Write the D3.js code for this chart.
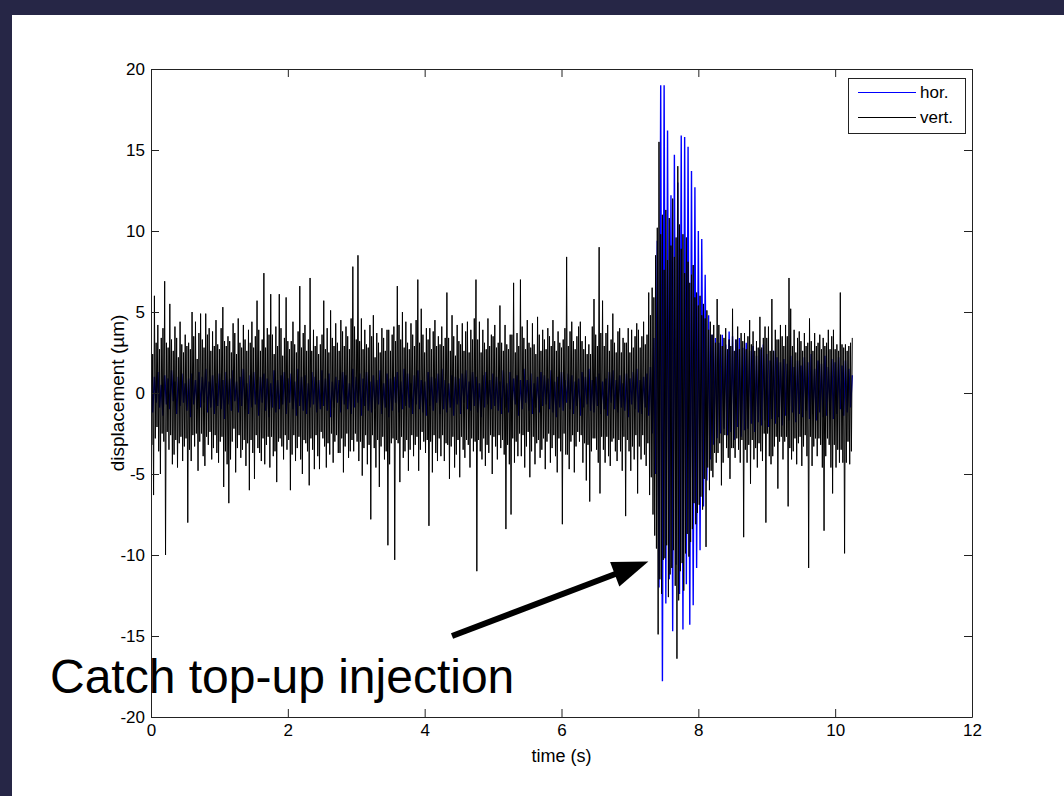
<!DOCTYPE html>
<html><head><meta charset="utf-8">
<script src="https://d3js.org/d3.v7.min.js"></script>
<style>
html,body{margin:0;padding:0;background:#fff;}
svg{display:block;}
text{font-family:"Liberation Sans",Arial,Helvetica,sans-serif;}
</style></head>
<body>
<svg id="chart" width="1064" height="796"></svg>
<script>
// ---- data ----
const horStep = 0.025;    // s between hor. samples
const vertStep = 0.0125;  // s between vert. samples
const xTicks = [0, 2, 4, 6, 8, 10, 12];
const yTicks = [-20, -15, -10, -5, 0, 5, 10, 15, 20];
const seriesNames = ["hor.", "vert."];
const seriesColors = ["#0000ff", "#000000"];
const xLabel = "time (s)";
const yLabel = "displacement (\u00b5m)";
const annotationText = "Catch top-up injection";
const arrowFrom = [4.40, -15.0];
const arrowTo = [7.27, -10.4];

const vert = [
 1.5,-3.2,2.4,-6.3,6.0,-2.8,3.1,-2.1,4.2,-3.6,2.7,-5.0,3.4,-2.5,4.0,-3.0,6.9,-10.0,3.1,-2.4,
 2.8,-3.5,5.5,-2.6,3.3,-4.4,2.6,-3.8,4.1,-2.9,3.4,-4.6,2.2,-3.1,4.4,-2.7,3.0,-4.2,2.5,-3.3,
 3.6,-2.8,2.9,-8.0,3.1,-3.5,2.7,-4.2,5.0,-2.6,3.5,-3.3,4.4,-2.5,2.1,-4.8,3.7,-3.0,4.9,-2.5,
 3.3,-3.9,2.8,-4.5,4.9,-2.7,3.6,-3.2,4.0,-2.4,2.6,-4.1,3.8,-3.4,2.9,-2.6,4.5,-3.7,3.0,-4.3,
 2.7,-3.0,4.0,-2.7,5.3,-5.8,3.2,-3.6,2.9,-4.4,3.5,-6.8,3.2,-4.1,2.5,-3.0,4.3,-2.2,3.7,-4.9,
 2.4,-3.4,4.6,-2.6,3.1,-4.0,2.8,-3.5,4.2,-2.9,3.3,-4.5,2.6,-3.1,3.9,-6.0,3.1,-2.9,4.4,-3.7,
 2.8,-5.3,3.5,-2.6,5.7,-3.4,3.9,-3.7,2.6,-4.2,3.3,-2.8,7.4,-4.4,2.8,-3.2,4.0,-2.7,3.6,-4.6,
 6.1,-2.7,3.6,-3.9,2.4,-3.6,4.1,-5.5,2.9,-3.0,6.1,-2.8,4.0,-3.3,2.3,-4.1,3.4,-2.6,5.9,-3.5,
 3.2,-2.9,2.7,-6.0,3.2,-3.8,4.4,-2.6,3.0,-4.2,2.5,-3.4,3.8,-2.7,6.6,-4.1,2.8,-5.0,3.7,-2.9,
 4.2,-3.1,2.6,-3.6,3.3,-5.7,7.1,-2.8,2.6,-3.5,3.9,-4.7,2.9,-2.6,3.5,-3.9,2.4,-4.7,3.0,-2.4,
 3.6,-2.8,5.7,-3.3,2.7,-4.6,4.0,-3.1,2.5,-3.8,5.1,-2.5,3.4,-4.3,2.9,-3.0,4.3,-2.6,3.1,-3.7,
 2.6,-3.7,4.5,-2.8,3.8,-4.9,2.9,-3.3,4.1,-2.5,3.5,-4.0,2.7,-3.6,4.6,-2.9,7.8,-3.6,4.1,-2.5,
 3.3,-3.0,8.5,-4.2,3.2,-3.0,4.6,-5.1,2.7,-3.4,3.9,-2.6,3.0,-4.4,2.8,-3.2,4.2,-7.8,3.5,-2.6,
 4.8,-3.4,2.2,-4.6,3.7,-2.9,3.1,-5.8,2.5,-3.3,4.0,-2.7,3.4,-4.1,2.6,-3.6,3.9,-9.4,3.9,-4.4,
 2.6,-3.1,3.6,-2.8,4.1,-10.3,3.2,-2.9,6.6,-3.1,4.2,-5.5,3.3,-2.7,5.0,-4.0,2.8,-3.6,4.4,-2.9,
 3.1,-4.8,2.7,-3.5,4.3,-2.6,3.6,-3.9,2.9,-3.2,4.5,-2.7,7.0,-4.8,3.1,-3.5,5.2,-2.4,3.6,-3.0,
 2.5,-3.7,4.0,-2.9,3.3,-8.2,4.0,-3.0,2.7,-4.9,3.8,-2.6,4.5,-3.7,2.9,-4.2,3.5,-2.8,3.0,-3.9,
 4.1,-2.6,2.9,-4.2,3.4,-3.1,6.2,-3.2,3.4,-5.3,2.6,-3.3,4.8,-2.7,3.5,-4.6,2.3,-3.8,4.2,-2.9,
 3.2,-5.2,3.0,-2.7,4.3,-3.5,2.6,-4.0,3.8,-2.9,4.4,-3.2,2.5,-4.6,3.9,-2.8,3.3,-3.6,4.6,-3.0,
 7.0,-11.0,3.3,-2.9,4.4,-3.6,2.5,-4.1,3.9,-2.8,3.1,-4.5,2.7,-3.2,4.6,-3.7,2.9,-2.6,3.6,-5.0,
 3.5,-2.7,4.2,-3.3,2.8,-4.1,3.1,-2.6,5.4,-3.4,3.1,-2.9,2.6,-3.8,4.2,-8.4,3.0,-3.2,2.7,-4.4,
 3.6,-7.5,3.6,-2.8,6.8,-4.3,2.5,-3.0,3.7,-3.9,2.9,-2.5,7.0,-3.9,4.1,-2.6,3.4,-4.6,2.7,-3.3,
 4.5,-2.4,3.1,-5.2,2.8,-3.6,4.3,-2.7,3.0,-4.4,2.4,-3.1,4.7,-2.9,3.6,-4.0,2.6,-3.5,3.9,-2.8,
 3.3,-4.7,2.7,-3.0,4.0,-2.5,3.5,-4.3,2.9,-3.4,4.5,-2.6,3.2,-3.9,2.6,-4.9,3.8,-2.8,3.1,-3.6,
 2.8,-8.1,3.3,-2.5,4.0,-3.8,8.4,-3.8,2.9,-4.7,3.8,-3.0,4.4,-2.6,3.2,-4.9,2.7,-3.3,3.5,-2.4,
 4.1,-3.0,4.4,-2.6,3.2,-4.3,2.7,-3.1,3.5,-5.4,2.4,-3.2,3.0,-6.7,2.4,-3.6,4.1,-2.8,5.8,-2.8,
 3.6,-3.5,2.9,-4.3,9.0,-6.2,3.7,-2.7,5.7,-3.5,2.9,-4.3,3.7,-2.7,4.2,-3.9,2.6,-4.5,3.3,-3.0,
 4.9,-2.8,3.1,-3.6,2.5,-4.2,3.8,-2.9,4.0,-3.6,2.5,-4.8,3.4,-2.7,3.1,-7.6,3.1,-2.9,4.0,-3.6,
 2.5,-4.8,3.9,-3.3,2.8,-4.1,3.5,-2.6,4.3,-6.2,3.9,-3.3,2.8,-4.1,3.5,-2.6,4.4,-3.8,3.0,-4.5,
 3.6,-3.1,6.2,-6.3,4.8,-5.2,6.5,-7.5,5.9,-8.8,8.5,-9.6,10.2,-14.9,15.5,-11.5,9.8,-12.4,11.0,-10.3,
 7.6,-10.2,11.3,-9.4,8.2,-12.6,10.8,-11.2,9.1,-10.8,12.0,-9.7,8.4,-11.9,9.6,-16.4,14.0,-12.8,10.4,-11.0,
 8.9,-10.5,9.8,-12.2,7.4,-9.9,9.6,-8.7,8.1,-10.1,6.8,-9.2,7.3,-8.4,7.9,-6.8,5.9,-8.1,6.2,-7.4,
 5.4,-6.9,6.0,-6.4,4.8,-7.2,5.5,-5.3,4.6,-9.5,5.1,-4.6,3.9,-6.0,4.4,-4.8,3.6,-5.2,4.2,-3.7,
 3.1,-4.3,5.8,-3.7,4.2,-3.1,3.6,-5.7,2.9,-4.3,3.4,-2.6,4.0,-3.4,2.7,-4.0,3.3,-5.3,2.9,-3.4,
 5.2,-3.4,2.6,-4.0,3.3,-2.8,4.1,-3.5,2.7,-4.3,3.7,-2.9,3.2,-8.9,3.7,-3.5,2.7,-4.3,3.5,-3.2,
 4.5,-5.6,3.0,-2.9,3.8,-4.1,2.6,-3.4,3.2,-4.6,2.8,-3.1,4.7,-3.6,2.8,-4.2,3.4,-2.5,4.1,-8.0,
 3.4,-2.5,4.1,-3.9,2.6,-4.4,5.8,-3.9,2.6,-3.3,3.9,-2.7,3.3,-5.9,3.3,-3.0,4.2,-2.7,3.5,-4.1,
 2.9,-3.0,4.2,-2.7,3.5,-7.0,7.1,-3.4,5.2,-4.1,2.9,-3.6,3.9,-2.8,2.5,-4.4,3.4,-3.1,3.8,-2.7,
 3.2,-4.5,2.6,-3.3,3.7,-2.6,2.9,-3.9,3.1,-10.8,4.6,-2.7,3.2,-4.5,2.6,-3.3,3.7,-2.8,2.9,-3.9,
 3.1,-2.8,3.6,-3.2,2.7,-4.6,3.4,-8.5,2.9,-3.9,3.1,-2.8,3.9,-3.2,2.7,-4.6,3.5,-6.2,3.9,-3.2,
 2.7,-4.6,3.0,-3.5,2.6,-4.3,6.2,-3.5,3.0,-4.3,2.8,-9.9,3.0,-4.3,2.6,-3.0,2.9,-4.4,3.1,-3.6,
 3.4
];

const hor = [
 0.8,-1.2,1.0,-0.6,1.3,-0.9,0.5,-1.4,1.1,-0.7,
 0.9,-1.0,1.4,-0.5,0.7,-1.3,1.0,-0.8,1.2,-0.6,
 0.6,-1.1,0.9,-1.5,1.2,-0.7,0.8,-1.0,1.3,-0.9,
 1.0,-0.6,1.5,-1.2,0.7,-0.9,1.1,-1.3,0.6,-0.8,
 1.2,-1.0,0.8,-1.6,1.3,-0.7,0.9,-1.1,1.4,-0.5,
 0.7,-1.2,1.0,-0.8,1.5,-1.0,0.6,-1.3,1.1,-0.9,
 1.3,-0.7,0.8,-1.4,1.0,-0.6,1.2,-1.1,0.9,-1.5,
 0.6,-0.9,1.4,-1.2,0.8,-1.0,1.1,-0.7,1.3,-1.3,
 0.9,-0.6,1.2,-1.0,0.7,-1.4,1.5,-0.8,1.0,-1.1,
 1.1,-1.3,0.6,-0.9,1.3,-0.7,1.0,-1.2,0.8,-1.0,
 1.4,-0.8,0.9,-1.1,1.2,-1.5,0.7,-0.9,1.0,-0.6,
 0.8,-1.2,1.3,-0.7,1.1,-1.0,0.6,-1.3,1.5,-0.9,
 1.0,-0.6,1.2,-1.4,0.9,-0.8,1.3,-1.1,0.7,-1.2,
 1.1,-1.0,0.8,-0.7,1.4,-1.3,0.6,-0.9,1.2,-1.5,
 0.9,-1.1,1.0,-0.6,1.3,-1.2,0.7,-1.0,1.5,-0.8,
 1.2,-0.9,0.6,-1.3,1.1,-0.7,1.4,-1.0,0.8,-1.2,
 0.7,-1.4,1.3,-0.8,1.0,-1.1,0.9,-0.6,1.2,-1.3,
 1.5,-1.0,0.8,-1.2,0.6,-0.9,1.1,-1.4,1.0,-0.7,
 0.9,-1.3,1.2,-0.6,1.4,-1.0,0.7,-1.1,1.3,-0.8,
 1.0,-1.2,0.6,-1.5,1.1,-0.9,1.3,-0.7,0.8,-1.0,
 1.2,-0.8,1.0,-1.1,0.7,-1.3,1.4,-0.9,0.6,-1.2,
 1.3,-1.0,0.9,-0.7,1.1,-1.4,0.8,-1.0,1.5,-0.6,
 0.8,-1.1,1.2,-1.3,0.6,-0.9,1.0,-1.2,1.3,-0.8,
 1.1,-0.7,0.9,-1.0,1.4,-1.2,0.7,-1.5,1.0,-0.9,
 1.3,-1.1,0.8,-0.6,1.2,-1.0,1.1,-1.3,0.7,-0.8,
 0.9,-1.4,1.3,-0.9,1.0,-0.7,1.5,-1.1,0.8,-1.2,
 1.0,-0.8,1.2,-1.3,0.7,-1.0,0.9,-1.4,1.3,-0.6,
 1.4,-1.0,0.8,-1.2,1.1,-0.9,0.6,-1.1,1.2,-1.5,
 0.9,-0.7,1.3,-1.0,1.5,-1.2,0.8,-1.3,1.0,-0.9,
 1.2,-1.4,1.6,-2.5,3.4,-5.0,9.4,-12.0,19.0,-17.8,
 19.0,-13.0,16.2,-11.5,12.2,-14.7,14.7,-10.6,13.0,-12.4,
 15.9,-14.6,15.8,-11.8,15.2,-14.3,13.7,-13.1,12.7,-10.8,
 10.0,-9.7,9.5,-7.0,7.3,-5.4,4.8,-4.1,3.6,-3.2,
 3.4,-2.8,3.1,-2.5,3.6,-2.2,3.0,-2.6,3.8,-2.4,
 3.5,-2.9,3.3,-2.1,3.4,-2.7,2.8,-2.3,3.1,-2.2,
 2.6,-1.9,2.9,-2.4,2.3,-1.8,2.7,-2.0,3.0,-1.7,
 2.4,-2.1,2.0,-1.6,2.6,-1.9,2.2,-1.5,1.9,-2.0,
 2.1,-1.4,1.8,-1.7,2.3,-1.2,1.6,-1.8,2.0,-1.3,
 1.7,-1.5,2.2,-1.1,1.9,-1.6,2.4,-1.3,1.5,-1.7,
 2.0,-1.2,1.8,-1.5,2.3,-1.4,1.6,-1.1,2.1,-1.6,
 1.9,-1.3,2.2,-1.0,1.7,-1.4,2.0,-1.2,1.5,-0.9,1.1
];

// ---- drawing ----
const svg = d3.select("#chart");
const W = 1064, H = 796;
svg.append("rect").attr("width", W).attr("height", H).attr("fill", "#ffffff");
svg.append("rect").attr("x", 0).attr("y", 0).attr("width", 12).attr("height", H).attr("fill", "#262646");
svg.append("rect").attr("x", 0).attr("y", 0).attr("width", W).attr("height", 15).attr("fill", "#262646");

const x = d3.scaleLinear().domain([0, 12]).range([151, 972]);
const y = d3.scaleLinear().domain([-20, 20]).range([717, 69]);

svg.append("defs").append("clipPath").attr("id", "plotclip")
  .append("rect").attr("x", x(0)).attr("y", y(20)).attr("width", x(12) - x(0)).attr("height", y(-20) - y(20));

const plot = svg.append("g").attr("clip-path", "url(#plotclip)");
const series = [
  { values: hor, step: horStep, width: 1.4 },
  { values: vert, step: vertStep, width: 1.0 }
];
series.forEach((s, k) => {
  const line = d3.line().x((d, i) => x(i * s.step)).y(d => y(d));
  plot.append("path").datum(s.values).attr("d", line)
    .attr("fill", "none").attr("stroke", seriesColors[k]).attr("stroke-width", s.width)
    .attr("stroke-linejoin", "bevel");
});

const fs = 17;
const axisColor = "#222";
const fmt = d => String(d);
function styleAxis(g, labels) {
  g.select(".domain").attr("stroke", axisColor);
  g.selectAll(".tick line").attr("stroke", axisColor);
  g.selectAll(".tick text").attr("fill", "#000").style("font-size", fs + "px")
    .style("font-family", '"Liberation Sans",Arial,sans-serif');
  if (!labels) g.selectAll(".tick text").remove();
}
svg.append("g").attr("transform", `translate(0,${y(-20)})`)
  .call(d3.axisBottom(x).tickValues(xTicks).tickFormat(fmt).tickSizeInner(-8).tickSizeOuter(0).tickPadding(7))
  .call(g => styleAxis(g, true));
svg.append("g").attr("transform", `translate(0,${y(20)})`)
  .call(d3.axisTop(x).tickValues(xTicks).tickSizeInner(-8).tickSizeOuter(0))
  .call(g => styleAxis(g, false));
svg.append("g").attr("transform", `translate(${x(0)},0)`)
  .call(d3.axisLeft(y).tickValues(yTicks).tickFormat(fmt).tickSizeInner(-8).tickSizeOuter(0).tickPadding(6))
  .call(g => styleAxis(g, true));
svg.append("g").attr("transform", `translate(${x(12)},0)`)
  .call(d3.axisRight(y).tickValues(yTicks).tickSizeInner(-8).tickSizeOuter(0))
  .call(g => styleAxis(g, false));

// axis titles
svg.append("text").attr("x", (x(0) + x(12)) / 2).attr("y", 762).attr("text-anchor", "middle")
  .style("font-size", "18px").text(xLabel);
svg.append("text").attr("transform", `translate(124,${y(0)}) rotate(-90)`).attr("text-anchor", "middle")
  .style("font-size", "19px").text(yLabel);

// legend
const lg = svg.append("g");
lg.append("rect").attr("x", 848.5).attr("y", 78.5).attr("width", 117).attr("height", 55)
  .attr("fill", "#fff").attr("stroke", "#222").attr("stroke-width", 1);
seriesNames.forEach((n, k) => {
  const yy = 92 + k * 25;
  lg.append("line").attr("x1", 858).attr("x2", 916).attr("y1", yy + 0.5).attr("y2", yy + 0.5)
    .attr("stroke", seriesColors[k]).attr("stroke-width", 1);
  lg.append("text").attr("x", 920).attr("y", yy + 6).style("font-size", fs + "px").text(n);
});

// annotation
const ax0 = x(arrowFrom[0]), ay0 = y(arrowFrom[1]);
const ax1 = x(arrowTo[0]), ay1 = y(arrowTo[1]);
const ang = Math.atan2(ay1 - ay0, ax1 - ax0);
const headLen = 36, headHalf = 13;
const bx = ax1 - headLen * Math.cos(ang), by = ay1 - headLen * Math.sin(ang);
svg.append("line").attr("x1", ax0).attr("y1", ay0).attr("x2", bx + 2 * Math.cos(ang)).attr("y2", by + 2 * Math.sin(ang))
  .attr("stroke", "#000").attr("stroke-width", 6);
svg.append("path").attr("d", d3.line()([
  [ax1, ay1],
  [bx + headHalf * Math.sin(ang), by - headHalf * Math.cos(ang)],
  [bx - headHalf * Math.sin(ang), by + headHalf * Math.cos(ang)]
]) + "Z").attr("fill", "#000");
svg.append("text").attr("x", 50).attr("y", 693).style("font-size", "48px").attr("fill", "#000").text(annotationText);
</script>
</body></html>
